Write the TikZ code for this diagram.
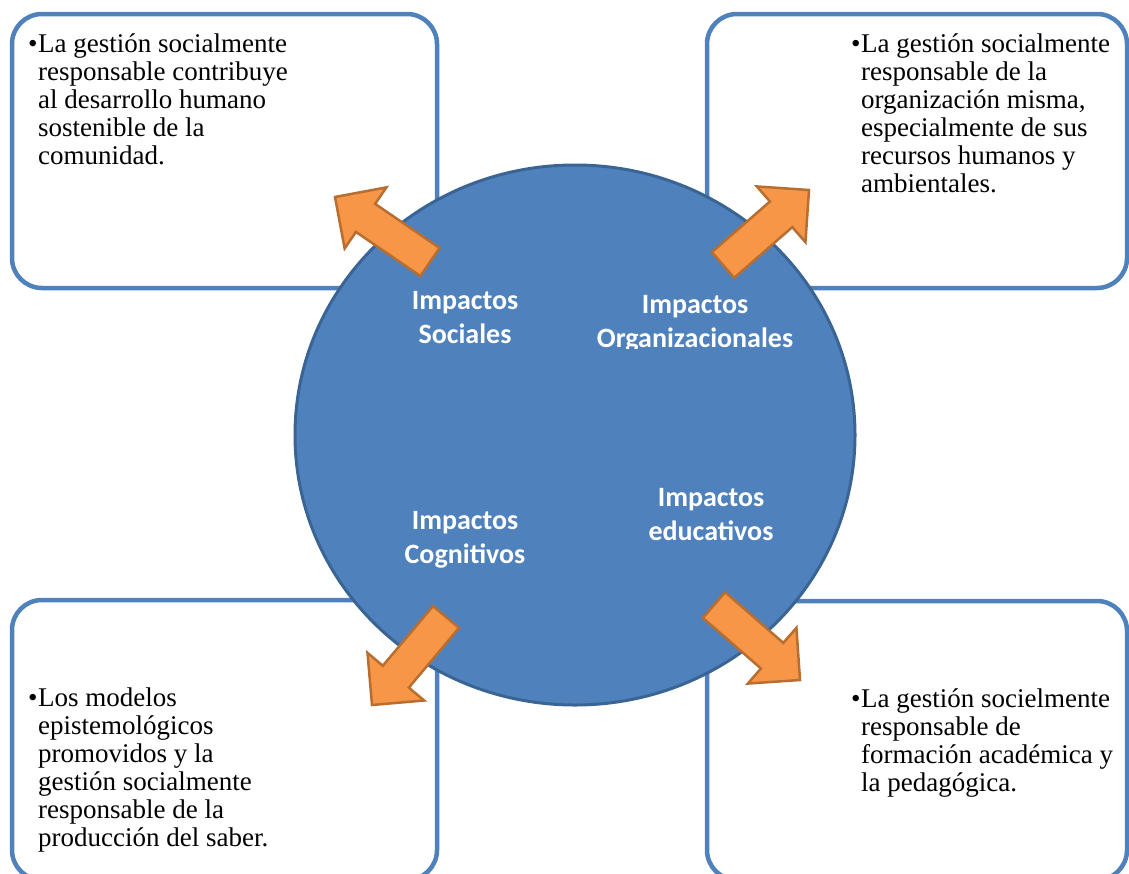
\documentclass[tikz,border=0pt]{standalone}
\usepackage{fontspec}
\setmainfont{Liberation Serif}
\newfontfamily\calib{Carlito}
\usetikzlibrary{calc,shapes.geometric}
\definecolor{boxblue}{HTML}{4F81BD}
\definecolor{circfill}{HTML}{4F81BD}
\definecolor{circline}{HTML}{3A6494}
\definecolor{arrfill}{HTML}{F79646}
\definecolor{arrline}{HTML}{B86E30}
\tikzset{
  infobox/.style={draw=boxblue, line width=4.5pt, fill=white, rounded corners=30pt, inner sep=0pt},
  bigcirc/.style={ellipse, draw=circline, line width=3pt, fill=circfill, inner sep=0pt},
  blockarrow/.style={draw=arrline, line width=2.5pt, fill=arrfill, line join=miter},
  lbl/.style={text=white, font=\calib\bfseries\fontsize{28}{34}\selectfont, align=center, inner sep=0pt},
  bodytext/.style={anchor=north west, align=left, inner sep=0pt, font=\fontsize{27}{28}\selectfont}
}
\newcommand{\blkarrow}[2]{%
  \path[blockarrow]
    ($(#1)!17pt!90:(#2)$) --
    ($($(#2)!37pt!(#1)$)!17pt!-90:(#1)$) --
    ($($(#2)!37pt!(#1)$)!37pt!-90:(#1)$) --
    (#2) --
    ($($(#2)!37pt!(#1)$)!37pt!90:(#1)$) --
    ($($(#2)!37pt!(#1)$)!17pt!90:(#1)$) --
    ($(#1)!17pt!-90:(#2)$) -- cycle;}
\newcommand{\fl}{\rule{0pt}{22pt}\makebox[10pt][l]{•}}
\newcommand{\nl}{\\\hspace*{10pt}}
\begin{document}
\begin{tikzpicture}[x=1pt,y=-1pt]
\useasboundingbox (0,0) rectangle (1129,873);
\fill[white] (0,0) rectangle (1129,873);

% boxes
\node[infobox, minimum width=425pt, minimum height=274pt] (boxTL) at (224.5,151) {};
\node[infobox, minimum width=420pt, minimum height=274pt] (boxTR) at (917,151) {};
\node[infobox, minimum width=425pt, minimum height=280pt] (boxBL) at (224.5,740) {};
\node[infobox, minimum width=420pt, minimum height=279pt] (boxBR) at (917,740.5) {};

% circle
\node[bigcirc, minimum width=560pt, minimum height=540pt] (circ) at (575,435) {};

% arrows
\coordinate (tTL) at (430,262); \coordinate (pTL) at (335,197);
\coordinate (tTR) at (723,265); \coordinate (pTR) at (809,190);
\coordinate (tBL) at (446,617); \coordinate (pBL) at (372,705);
\coordinate (tBR) at (714,605); \coordinate (pBR) at (800,680);
\blkarrow{tTL}{pTL}
\blkarrow{tTR}{pTR}
\blkarrow{tBL}{pBL}
\blkarrow{tBR}{pBR}

% circle labels
\node[lbl] (soc) at (465,318) {Impactos\\Sociales};
\begin{scope}
\clip (560,280) rectangle (830,348);
\node[lbl] (org) at (695,324) {Impactos\\Organizacionales};
\end{scope}
\node[lbl] (cog) at (465,540) {Impactos\\Cognitivos};
\node[lbl] (edu) at (711,515) {Impactos\\educativos};

% box texts
\node[bodytext] (txtTL) at (28,30) {\fl La gestión socialmente\nl responsable contribuye\nl al desarrollo humano\nl sostenible de la\nl comunidad.};
\node[bodytext] (txtTR) at (851,30) {\fl La gestión socialmente\nl responsable de la\nl organización misma,\nl especialmente de sus\nl recursos humanos y\nl ambientales.};
\node[bodytext] (txtBL) at (28,684) {\fl Los modelos\nl epistemológicos\nl promovidos y la\nl gestión socialmente\nl responsable de la\nl producción del saber.};
\node[bodytext] (txtBR) at (851,685) {\fl La gestión socielmente\nl responsable de\nl formación académica y\nl la pedagógica.};
\end{tikzpicture}
\end{document}
